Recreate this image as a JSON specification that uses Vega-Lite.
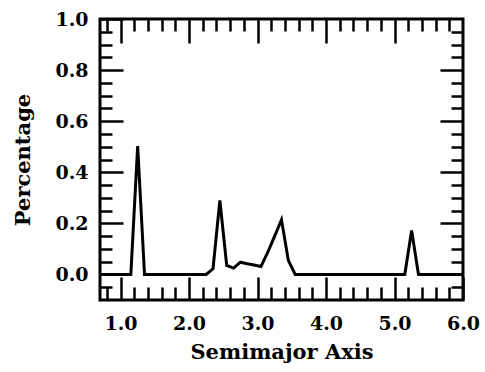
{
  "$schema": "https://vega.github.io/schema/vega-lite/v6.json",
  "autosize": "none",
  "width": 363,
  "height": 281,
  "padding": {"left": 100, "top": 19, "right": 22, "bottom": 72},
  "background": "white",
  "config": {
    "view": {"stroke": "black", "strokeWidth": 3},
    "axis": {
      "domain": false,
      "grid": false,
      "tickColor": "black",
      "tickWidth": 2.5,
      "labelColor": "black",
      "titleColor": "black"
    }
  },
  "data": {
    "values": [
      {"a": 0.7, "p": 0},
      {"a": 0.85, "p": 0},
      {"a": 0.95, "p": 0},
      {"a": 1.05, "p": 0},
      {"a": 1.15, "p": 0},
      {"a": 1.25, "p": 0.503},
      {"a": 1.35, "p": 0},
      {"a": 1.45, "p": 0},
      {"a": 1.55, "p": 0},
      {"a": 1.65, "p": 0},
      {"a": 1.75, "p": 0},
      {"a": 1.85, "p": 0},
      {"a": 1.95, "p": 0},
      {"a": 2.05, "p": 0},
      {"a": 2.15, "p": 0},
      {"a": 2.25, "p": 0},
      {"a": 2.35, "p": 0.022},
      {"a": 2.45, "p": 0.29},
      {"a": 2.55, "p": 0.035},
      {"a": 2.65, "p": 0.025},
      {"a": 2.75, "p": 0.048},
      {"a": 2.85, "p": 0.042},
      {"a": 2.95, "p": 0.037},
      {"a": 3.05, "p": 0.031},
      {"a": 3.15, "p": 0.087},
      {"a": 3.25, "p": 0.15},
      {"a": 3.35, "p": 0.214},
      {"a": 3.45, "p": 0.055},
      {"a": 3.55, "p": 0},
      {"a": 3.65, "p": 0},
      {"a": 3.75, "p": 0},
      {"a": 3.85, "p": 0},
      {"a": 3.95, "p": 0},
      {"a": 4.05, "p": 0},
      {"a": 4.15, "p": 0},
      {"a": 4.25, "p": 0},
      {"a": 4.35, "p": 0},
      {"a": 4.45, "p": 0},
      {"a": 4.55, "p": 0},
      {"a": 4.65, "p": 0},
      {"a": 4.75, "p": 0},
      {"a": 4.85, "p": 0},
      {"a": 4.95, "p": 0},
      {"a": 5.05, "p": 0},
      {"a": 5.15, "p": 0},
      {"a": 5.25, "p": 0.172},
      {"a": 5.35, "p": 0},
      {"a": 5.45, "p": 0},
      {"a": 5.55, "p": 0},
      {"a": 5.65, "p": 0},
      {"a": 5.75, "p": 0},
      {"a": 5.85, "p": 0},
      {"a": 6.0, "p": 0}
    ]
  },
  "resolve": {
    "scale": {"x": "shared", "y": "shared"},
    "axis": {"x": "independent", "y": "independent"}
  },
  "layer": [
    {
      "mark": {"type": "line", "color": "black", "strokeWidth": 3, "strokeJoin": "miter"},
      "encoding": {
        "x": {
          "field": "a", "type": "quantitative",
          "scale": {"domain": [0.7, 6.0], "nice": false, "zero": false},
          "axis": {
            "orient": "bottom", "title": "Semimajor Axis",
            "values": [1, 2, 3, 4, 5, 6], "format": ".1f",
            "tickSize": -23, "labelPadding": 37, "titlePadding": 8,
            "labelFont": "DejaVu Serif", "labelFontWeight": "bold", "labelFontSize": 19,
            "titleFont": "DejaVu Serif", "titleFontWeight": "bold", "titleFontSize": 21,
            "labelFlush": false, "labelOverlap": false
          }
        },
        "y": {
          "field": "p", "type": "quantitative",
          "scale": {"domain": [-0.1, 1.0], "nice": false, "zero": false},
          "axis": {
            "orient": "left", "title": "Percentage",
            "values": [0, 0.2, 0.4, 0.6, 0.8, 1.0], "format": ".1f",
            "tickSize": -23, "labelPadding": 35, "titlePadding": 21,
            "labelFont": "DejaVu Serif", "labelFontWeight": "bold", "labelFontSize": 19,
            "titleFont": "DejaVu Serif", "titleFontWeight": "bold", "titleFontSize": 21,
            "labelFlush": false, "labelOverlap": false
          }
        }
      }
    },
    {
      "mark": {"type": "line", "strokeOpacity": 0},
      "encoding": {
        "x": {
          "field": "a", "type": "quantitative",
          "axis": {
            "orient": "bottom", "title": null, "labels": false,
            "values": [0.8, 1.2, 1.4, 1.6, 1.8, 2.2, 2.4, 2.6, 2.8, 3.2, 3.4, 3.6, 3.8, 4.2, 4.4, 4.6, 4.8, 5.2, 5.4, 5.6, 5.8],
            "tickSize": -13
          }
        },
        "y": {
          "field": "p", "type": "quantitative",
          "axis": {
            "orient": "left", "title": null, "labels": false,
            "values": [-0.05, 0.05, 0.1, 0.15, 0.25, 0.3, 0.35, 0.45, 0.5, 0.55, 0.65, 0.7, 0.75, 0.85, 0.9, 0.95],
            "tickSize": -12
          }
        }
      }
    },
    {
      "mark": {"type": "line", "strokeOpacity": 0},
      "encoding": {
        "x": {
          "field": "a", "type": "quantitative",
          "axis": {
            "orient": "top", "title": null, "labels": false,
            "values": [1, 2, 3, 4, 5],
            "tickSize": -24
          }
        },
        "y": {
          "field": "p", "type": "quantitative",
          "axis": {
            "orient": "right", "title": null, "labels": false,
            "values": [0, 0.2, 0.4, 0.6, 0.8],
            "tickSize": -23
          }
        }
      }
    },
    {
      "mark": {"type": "line", "strokeOpacity": 0},
      "encoding": {
        "x": {
          "field": "a", "type": "quantitative",
          "axis": {
            "orient": "top", "title": null, "labels": false,
            "values": [0.8, 1.2, 1.4, 1.6, 1.8, 2.2, 2.4, 2.6, 2.8, 3.2, 3.4, 3.6, 3.8, 4.2, 4.4, 4.6, 4.8, 5.2, 5.4, 5.6, 5.8],
            "tickSize": -12
          }
        },
        "y": {
          "field": "p", "type": "quantitative",
          "axis": {
            "orient": "right", "title": null, "labels": false,
            "values": [-0.05, 0.05, 0.1, 0.15, 0.25, 0.3, 0.35, 0.45, 0.5, 0.55, 0.65, 0.7, 0.75, 0.85, 0.9, 0.95],
            "tickSize": -12
          }
        }
      }
    }
  ]
}
